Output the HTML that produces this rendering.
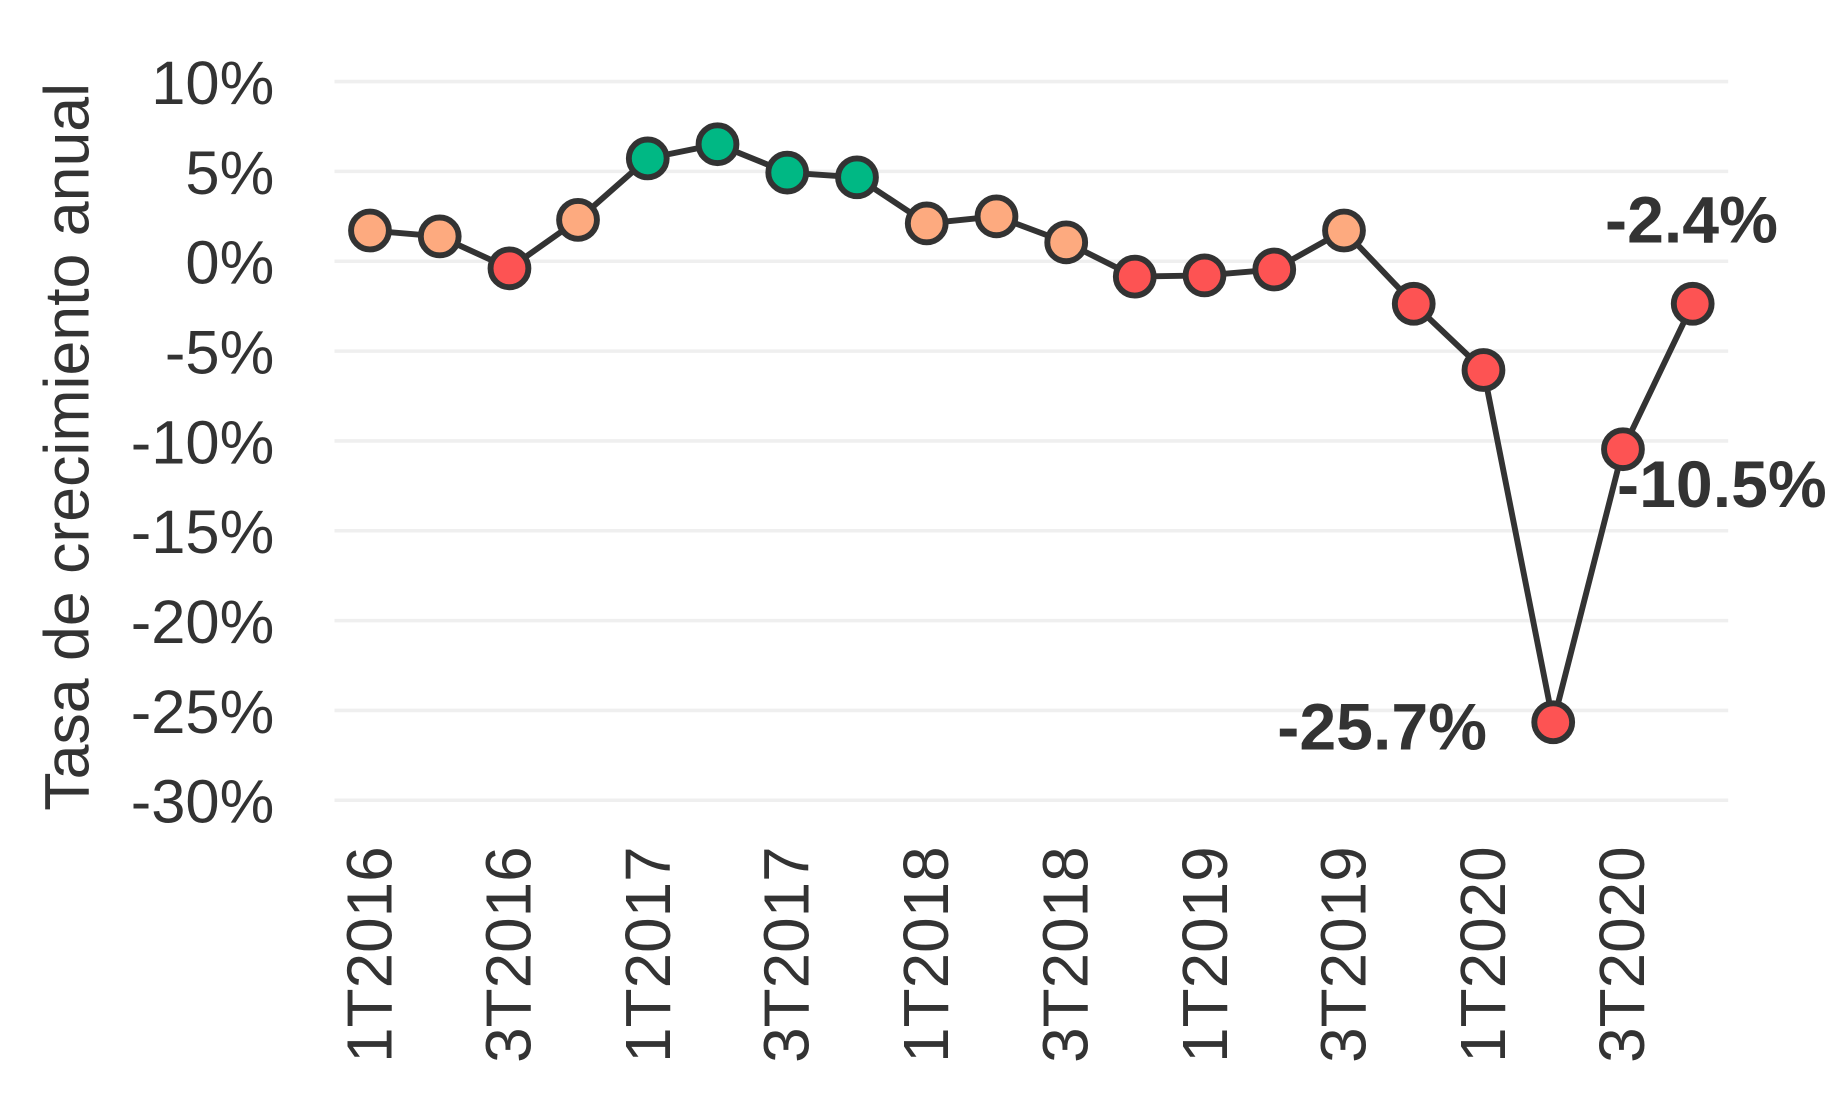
<!DOCTYPE html>
<html><head><meta charset="utf-8"><style>html,body{margin:0;padding:0;background:#fff}svg{display:block}</style></head>
<body>
<svg width="1844" height="1110" viewBox="0 0 1560 939" preserveAspectRatio="none" xmlns="http://www.w3.org/2000/svg" font-family="'Liberation Sans', sans-serif">
<g stroke="#efefef" stroke-width="3">
<line x1="283" x2="1462" y1="69" y2="69"/><line x1="283" x2="1462" y1="145" y2="145"/><line x1="283" x2="1462" y1="221" y2="221"/><line x1="283" x2="1462" y1="297" y2="297"/><line x1="283" x2="1462" y1="373" y2="373"/><line x1="283" x2="1462" y1="449" y2="449"/><line x1="283" x2="1462" y1="525" y2="525"/><line x1="283" x2="1462" y1="601" y2="601"/><line x1="283" x2="1462" y1="677" y2="677"/>
</g>
<g fill="#333" font-size="52" text-anchor="end">
<text x="232" y="88">10%</text><text x="232" y="164">5%</text><text x="232" y="240">0%</text><text x="232" y="316">-5%</text><text x="232" y="392">-10%</text><text x="232" y="468">-15%</text><text x="232" y="544">-20%</text><text x="232" y="620">-25%</text><text x="232" y="696">-30%</text>
</g>
<text transform="translate(75,378) rotate(-90)" text-anchor="middle" font-size="53" fill="#333">Tasa de crecimiento anual</text>
<g fill="#333" font-size="54" text-anchor="end">
<text transform="translate(331,716) rotate(-90)">1T2016</text>
<text transform="translate(449,716) rotate(-90)">3T2016</text>
<text transform="translate(567,716) rotate(-90)">1T2017</text>
<text transform="translate(684,716) rotate(-90)">3T2017</text>
<text transform="translate(802,716) rotate(-90)">1T2018</text>
<text transform="translate(920,716) rotate(-90)">3T2018</text>
<text transform="translate(1038,716) rotate(-90)">1T2019</text>
<text transform="translate(1155,716) rotate(-90)">3T2019</text>
<text transform="translate(1273,716) rotate(-90)">1T2020</text>
<text transform="translate(1391,716) rotate(-90)">3T2020</text>
</g>
<polyline fill="none" stroke="#333" stroke-width="5" stroke-linejoin="round" points="313,195 372,200 431,227 489,186 548,134 607,122 666,146 725,150 784,189 843,183 902,205 960,234 1019,233 1078,228 1137,195 1196,257 1255,313 1314,611 1373,380 1432,257"/>
<g stroke="#333" stroke-width="5">
<circle cx="313" cy="195" r="16" fill="#fdaa7f"/>
<circle cx="372" cy="200" r="16" fill="#fdaa7f"/>
<circle cx="431" cy="227" r="16" fill="#fd5353"/>
<circle cx="489" cy="186" r="16" fill="#fdaa7f"/>
<circle cx="548" cy="134" r="16" fill="#00b884"/>
<circle cx="607" cy="122" r="16" fill="#00b884"/>
<circle cx="666" cy="146" r="16" fill="#00b884"/>
<circle cx="725" cy="150" r="16" fill="#00b884"/>
<circle cx="784" cy="189" r="16" fill="#fdaa7f"/>
<circle cx="843" cy="183" r="16" fill="#fdaa7f"/>
<circle cx="902" cy="205" r="16" fill="#fdaa7f"/>
<circle cx="960" cy="234" r="16" fill="#fd5353"/>
<circle cx="1019" cy="233" r="16" fill="#fd5353"/>
<circle cx="1078" cy="228" r="16" fill="#fd5353"/>
<circle cx="1137" cy="195" r="16" fill="#fdaa7f"/>
<circle cx="1196" cy="257" r="16" fill="#fd5353"/>
<circle cx="1255" cy="313" r="16" fill="#fd5353"/>
<circle cx="1314" cy="611" r="16" fill="#fd5353"/>
<circle cx="1373" cy="380" r="16" fill="#fd5353"/>
<circle cx="1432" cy="257" r="16" fill="#fd5353"/>
</g>
<g fill="#333" font-size="56" font-weight="bold">
<text x="1431" y="205" text-anchor="middle">-2.4%</text>
<text x="1368" y="429">-10.5%</text>
<text x="1258" y="634" text-anchor="end">-25.7%</text>
</g>
</svg>
</body></html>
